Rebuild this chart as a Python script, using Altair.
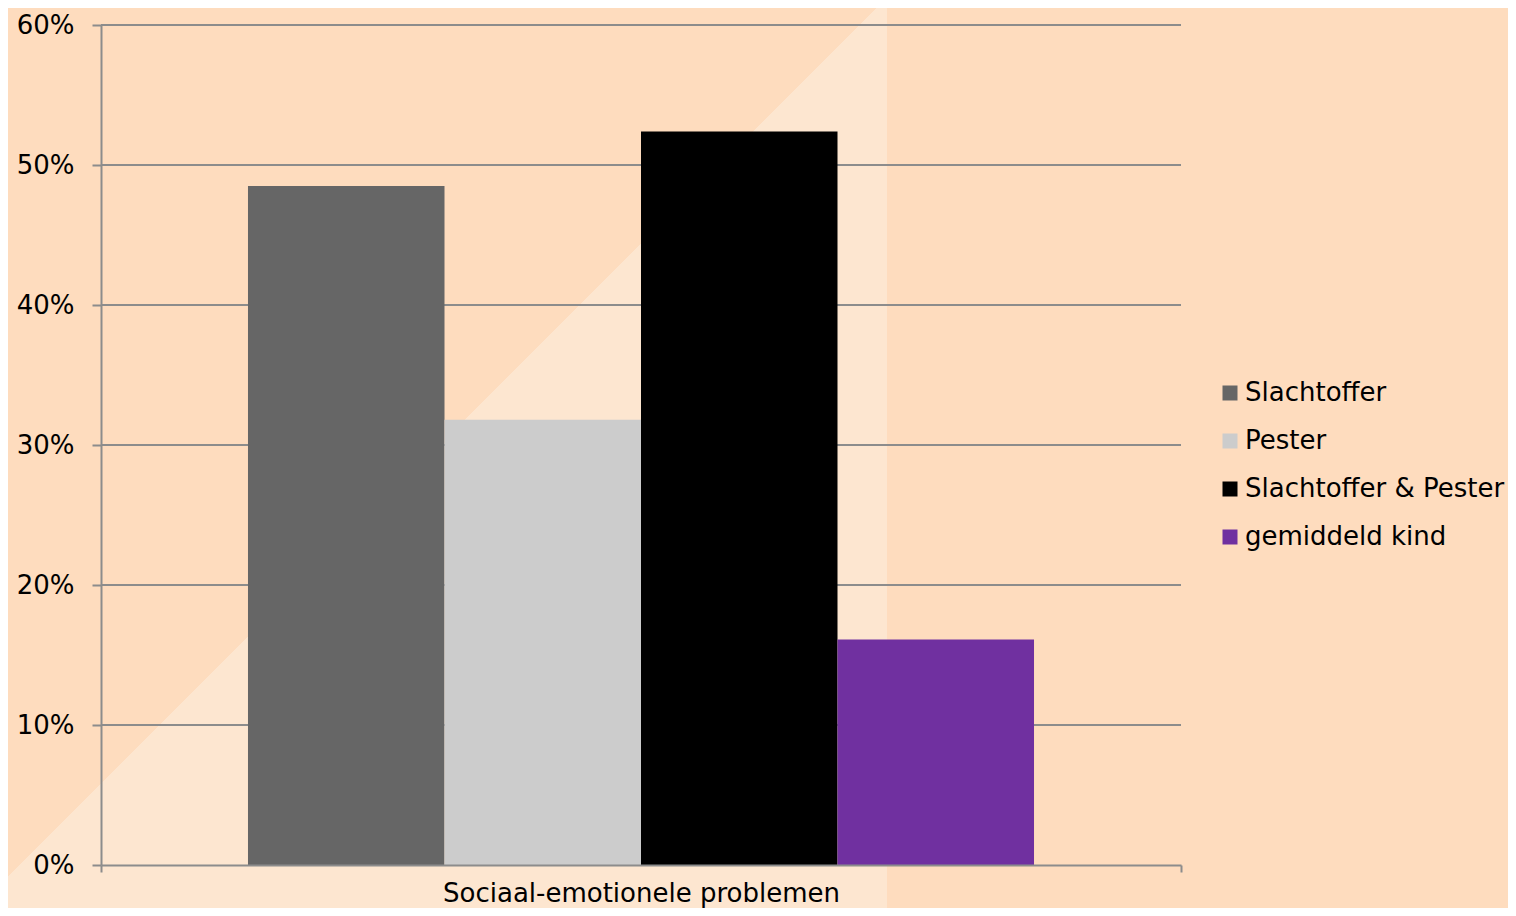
import altair as alt
import pandas as pd

# ---- data ----
category = "Sociaal-emotionele problemen"
series = ["Slachtoffer", "Pester", "Slachtoffer & Pester", "gemiddeld kind"]
values = [0.485, 0.318, 0.524, 0.161]
colors = ["#666666", "#CCCCCC", "#000000", "#7030A0"]
y_ticks = [0.0, 0.1, 0.2, 0.3, 0.4, 0.5, 0.6]

# ---- styles ----
PEACH = "#FEDCBE"
LIGHT = "#FDE6D0"
GRID = "#8C8C8C"
FONT = "DejaVu Sans"
W, H = 1080, 840

df = pd.DataFrame({"cat": [category] * len(series), "series": series, "value": values})
grid_df = pd.DataFrame({"value": y_ticks[1:]})

yscale = alt.Scale(domain=[0, 0.6], nice=False, zero=True)
yaxis = alt.Axis(
    values=y_ticks, format=".0%", title=None, grid=False, zindex=1,
    labelFontSize=26, labelColor="#000000", labelFont=FONT, labelPadding=18,
    tickSize=9, tickWidth=2, tickColor=GRID, domainColor=GRID, domainWidth=2,
)

# decorative light diagonal band in the background
gradient = {
    "gradient": "linear", "x1": 0, "y1": 0, "x2": 1, "y2": 1,
    "stops": [
        {"offset": 0, "color": PEACH},
        {"offset": 0.4989, "color": PEACH},
        {"offset": 0.4989, "color": LIGHT},
        {"offset": 1, "color": LIGHT},
    ],
}
bg = alt.Chart(pd.DataFrame({"a": [0]})).mark_rect(fill=gradient, strokeWidth=0).encode(
    x=alt.value(-130), x2=alt.value(786), y=alt.value(-25), y2=alt.value(891)
)

rules = alt.Chart(grid_df).mark_rule(color=GRID, strokeWidth=2).encode(
    y=alt.Y("value:Q", scale=yscale, axis=yaxis),
    x=alt.value(0), x2=alt.value(W),
)

bars = alt.Chart(df).mark_bar(strokeWidth=0).encode(
    x=alt.X(
        "cat:N",
        scale=alt.Scale(paddingInner=0, paddingOuter=0),
        axis=alt.Axis(
            title=None, labelAngle=0, tickBand="extent", zindex=1,
            labelFontSize=26, labelColor="#000000", labelFont=FONT, labelLimit=1000,
            labelPadding=8, tickSize=7, tickWidth=2, tickColor=GRID,
            domainColor=GRID, domainWidth=2,
        ),
    ),
    xOffset=alt.XOffset("series:N", sort=series,
                        scale=alt.Scale(paddingInner=0, paddingOuter=0.748)),
    y=alt.Y("value:Q", scale=yscale, axis=yaxis),
    color=alt.Color(
        "series:N", sort=series,
        scale=alt.Scale(domain=series, range=colors),
        legend=alt.Legend(
            title=None, orient="none", legendX=1116, legendY=355, padding=0,
            symbolType="square", symbolSize=225, symbolStrokeWidth=0,
            labelFontSize=26, labelFont=FONT, labelColor="#000000", labelLimit=400,
            labelOffset=2, rowPadding=22,
        ),
    ),
)

chart = alt.layer(bg, rules, bars).properties(
    width=W, height=H,
    padding={"left": 93, "top": 17, "right": 327, "bottom": 43},
    autosize=alt.AutoSizeParams(type="none"),
).configure(background=PEACH, font=FONT).configure_view(stroke=None)

chart.save("out.html", embed_options={"renderer": "svg", "actions": False})
